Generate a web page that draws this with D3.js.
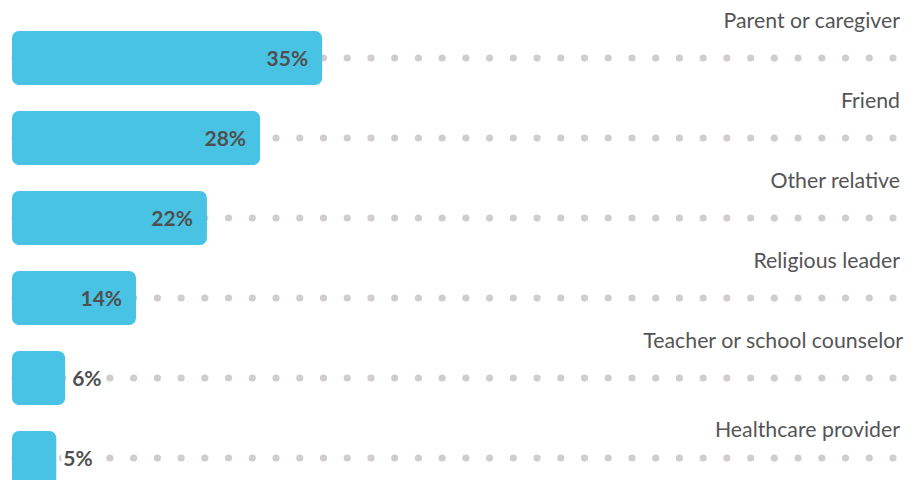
<!DOCTYPE html>
<html>
<head>
<meta charset="utf-8">
<script src="https://cdn.jsdelivr.net/npm/d3@7"></script>
<style>
  html, body { margin: 0; padding: 0; background: #fff; }
  svg { display: block; font-family: Lato, "Open Sans", sans-serif; }
</style>
</head>
<body>
<svg id="chart"></svg>
<script>
const categories = [
  "Parent or caregiver",
  "Friend",
  "Other relative",
  "Religious leader",
  "Teacher or school counselor",
  "Healthcare provider"
];
const values = [35, 28, 22, 14, 6, 5];

const width = 920;
const height = 480;
const barColor = "#49c3e4";
const textColor = "#555555";
const dotColor = "#d1cdcd";

const svg = d3.select("#chart")
  .attr("width", width)
  .attr("height", height);

const data = categories.map((c, i) => ({ category: c, value: values[i] }));

// 0-100% across the full row
const x = d3.scaleLinear().domain([0, 100]).range([12, 898]);

const y = d3.scaleBand()
  .domain(categories)
  .range([31, 31 + 80 * (categories.length - 0.325)])
  .paddingInner(0.325);

// dotted leader lines, drawn behind the bars
const dotStart = 15, dotEnd = 893, dotCount = 38;
const dotStep = (dotEnd - dotStart) / (dotCount - 1);
const dotXs = d3.range(dotCount).map(i => dotStart + i * dotStep);

const rows = svg.selectAll("g.row")
  .data(data)
  .enter()
  .append("g")
  .attr("class", "row")
  .attr("transform", d => "translate(0," + y(d.category) + ")");

rows.selectAll("circle")
  .data(dotXs)
  .enter()
  .append("circle")
  .attr("cx", d => d)
  .attr("cy", y.bandwidth() / 2)
  .attr("r", 3.6)
  .attr("fill", dotColor);

rows.append("rect")
  .attr("x", x(0))
  .attr("y", 0)
  .attr("width", d => x(d.value) - x(0))
  .attr("height", y.bandwidth())
  .attr("rx", 7)
  .attr("fill", barColor);

// percentage labels: inside the bar if there is room, else just after it
const fits = d => x(d.value) - x(0) > 70;

rows.append("text")
  .text(d => d.value + "%")
  .attr("x", d => fits(d) ? x(d.value) - 14 : x(d.value) + 7)
  .attr("y", y.bandwidth() / 2)
  .attr("dy", "0.36em")
  .attr("text-anchor", d => fits(d) ? "end" : "start")
  .style("font-size", "21px")
  .style("font-weight", 700)
  .attr("fill", "#4f4f4f")
  .attr("stroke", d => fits(d) ? "none" : "#fff")
  .attr("stroke-width", 8)
  .attr("stroke-linejoin", "round")
  .style("paint-order", "stroke");

// category labels, right aligned above the dotted line
rows.append("text")
  .text(d => d.category)
  .attr("x", (d, i) => i === 4 ? 903 : 900)
  .attr("y", (d, i) => i === categories.length - 1 ? 6 : -3)
  .attr("text-anchor", "end")
  .style("font-size", "21.3px")
  .attr("fill", textColor);
</script>
</body>
</html>
